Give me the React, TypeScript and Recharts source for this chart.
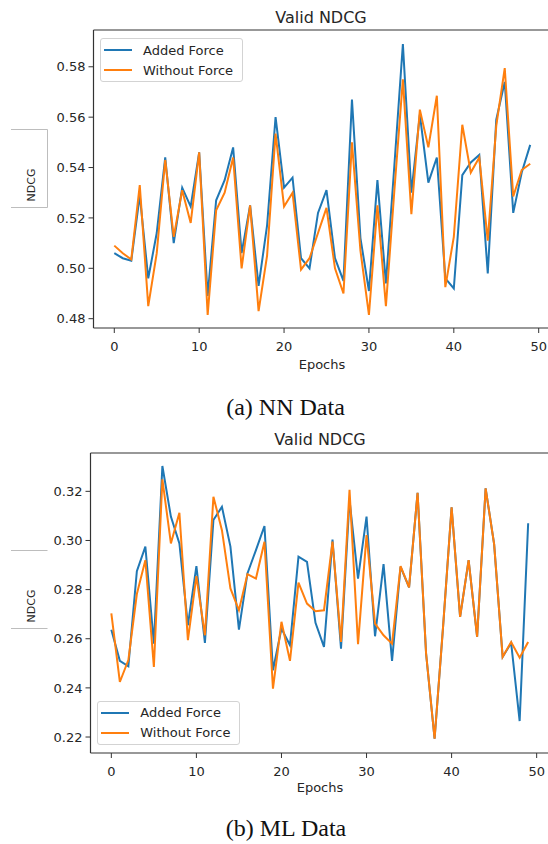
import { LineChart, Line, XAxis, YAxis, Legend, ReferenceLine } from "recharts"

// epochs on the x axis
const epochs = [
  0, 1, 2, 3, 4, 5, 6, 7, 8, 9, 10, 11, 12, 13, 14, 15, 16, 17, 18, 19, 20, 21, 22, 23, 24,
  25, 26, 27, 28, 29, 30, 31, 32, 33, 34, 35, 36, 37, 38, 39, 40, 41, 42, 43, 44, 45, 46, 47, 48, 49
]

const seriesNames = ["Added Force", "Without Force"]

// (a) NN Data
const nnAdded = [
  0.506, 0.504, 0.503, 0.529, 0.496, 0.514, 0.544, 0.51, 0.532, 0.5245,
  0.546, 0.489, 0.527, 0.535, 0.548, 0.506, 0.525, 0.493, 0.517, 0.56,
  0.532, 0.536, 0.504, 0.5, 0.522, 0.531, 0.504, 0.495, 0.567, 0.512,
  0.491, 0.535, 0.494, 0.541, 0.589, 0.53, 0.561, 0.534, 0.544, 0.496,
  0.492, 0.537, 0.542, 0.545, 0.498, 0.559, 0.574, 0.522, 0.538, 0.549
]
const nnWithout = [
  0.509, 0.506, 0.5035, 0.533, 0.485, 0.506, 0.543, 0.5125, 0.531, 0.518,
  0.546, 0.4815, 0.523, 0.53, 0.544, 0.5, 0.525, 0.483, 0.505, 0.5535,
  0.5245, 0.53, 0.4995, 0.504, 0.514, 0.524, 0.5, 0.49, 0.55, 0.507,
  0.4815, 0.525, 0.485, 0.531, 0.575, 0.5215, 0.563, 0.548, 0.5685, 0.4925,
  0.5125, 0.557, 0.538, 0.544, 0.511, 0.5565, 0.5795, 0.5285, 0.539, 0.5415
]

// (b) ML Data
const mlAdded = [
  0.2637, 0.251, 0.2488, 0.2875, 0.2975, 0.258, 0.3303, 0.3097, 0.2988, 0.2655,
  0.2896, 0.2583, 0.3083, 0.3137, 0.2975, 0.2637, 0.2866, 0.2961, 0.3059, 0.2472,
  0.2642, 0.2574, 0.2934, 0.2913, 0.2665, 0.2567, 0.3004, 0.256, 0.3165, 0.2845,
  0.3097, 0.261, 0.2904, 0.251, 0.2893, 0.2809, 0.3194, 0.254, 0.2193, 0.265,
  0.3135, 0.2689, 0.292, 0.2608, 0.3212, 0.2985, 0.2526, 0.2583, 0.2265, 0.307
]
const mlWithout = [
  0.2703, 0.2424, 0.2513, 0.2782, 0.292, 0.2485, 0.3249, 0.2988, 0.3113, 0.2594,
  0.2855, 0.2614, 0.3178, 0.3042, 0.2805, 0.2716, 0.2863, 0.2845, 0.2995, 0.2397,
  0.2669, 0.251, 0.2828, 0.2743, 0.2712, 0.2716, 0.2995, 0.2587, 0.3206, 0.2578,
  0.3022, 0.2662, 0.2614, 0.258, 0.2896, 0.2809, 0.3194, 0.254, 0.2193, 0.265,
  0.3135, 0.2689, 0.292, 0.2608, 0.3212, 0.2985, 0.2526, 0.2587, 0.2523, 0.2587
]

const xTicks = [0, 10, 20, 30, 40, 50]
const nnTicks = [0.48, 0.5, 0.52, 0.54, 0.56, 0.58]
const mlTicks = [0.22, 0.24, 0.26, 0.28, 0.3, 0.32]

const xDomain = [-2.45, 51.45]
const nnDomain = [0.4763, 0.5946]
const mlDomain = [0.2135, 0.3356]

const FONT = "'DejaVu Sans', sans-serif"
const SERIF = "'Liberation Serif', 'Times New Roman', serif"
const AXIS = "#333"
const TEXT = "#262626"

function buildRows(added: number[], without: number[]) {
  return epochs.map((e, i) => ({ epoch: e, added: added[i], without: without[i] }))
}

function BoxLegend({ payload }: any) {
  return (
    <div
      style={{
        width: 143,
        height: 44,
        boxSizing: "border-box",
        border: "1px solid #d3d3d3",
        borderRadius: 3,
        background: "rgba(255,255,255,0.85)",
        paddingTop: 1,
        fontFamily: FONT,
        fontSize: 13,
        color: TEXT
      }}
    >
      {(payload || []).map((p: any) => (
        <div key={p.value} style={{ display: "flex", alignItems: "center", height: 20 }}>
          <span
            style={{
              display: "inline-block",
              width: 28,
              height: 2,
              background: p.color,
              marginLeft: 3,
              marginRight: 11
            }}
          />
          <span style={{ whiteSpace: "nowrap" }}>{p.value}</span>
        </div>
      ))}
    </div>
  )
}

function NdcgChart({
  rows,
  yDomain,
  yTicks,
  width,
  height,
  yAxisWidth,
  marginTop,
  legendTop,
  legendLeft
}: {
  rows: { epoch: number; added: number; without: number }[]
  yDomain: number[]
  yTicks: number[]
  width: number
  height: number
  yAxisWidth: number
  marginTop: number
  legendTop: number
  legendLeft: number
}) {
  const tickStyle = { fontSize: 13, fill: TEXT, fontFamily: FONT }

  return (
    <LineChart
      width={width}
      height={height}
      data={rows}
      margin={{ top: marginTop, right: 5, bottom: 0, left: 0 }}
    >
      <XAxis
        dataKey="epoch"
        type="number"
        domain={xDomain}
        allowDataOverflow
        ticks={xTicks}
        height={32}
        tickSize={5}
        tickMargin={9}
        tick={tickStyle}
        stroke={AXIS}
        axisLine={{ stroke: AXIS, strokeWidth: 1.2 }}
      />
      <YAxis
        type="number"
        domain={yDomain}
        allowDataOverflow
        ticks={yTicks}
        width={yAxisWidth}
        tickSize={5}
        tickMargin={3}
        tick={tickStyle}
        tickFormatter={(v: number) => v.toFixed(2)}
        stroke={AXIS}
        axisLine={{ stroke: AXIS, strokeWidth: 1.2 }}
      />
      {/* top spine of the frame */}
      <ReferenceLine y={yDomain[1]} stroke={AXIS} strokeWidth={1.2} ifOverflow="extendDomain" />
      <Legend
        layout="vertical"
        align="center"
        verticalAlign="middle"
        wrapperStyle={{ top: legendTop, left: legendLeft, width: "auto" }}
        content={<BoxLegend />}
      />
      <Line
        name={seriesNames[0]}
        type="linear"
        dataKey="added"
        stroke="#1f77b4"
        strokeWidth={2}
        dot={false}
        isAnimationActive={false}
      />
      <Line
        name={seriesNames[1]}
        type="linear"
        dataKey="without"
        stroke="#ff7f0e"
        strokeWidth={2}
        dot={false}
        isAnimationActive={false}
      />
    </LineChart>
  )
}

export default function App() {
  const nnRows = buildRows(nnAdded, nnWithout)
  const mlRows = buildRows(mlAdded, mlWithout)

  return (
    <div
      style={{
        position: "absolute",
        left: 0,
        top: 0,
        width: 548,
        height: 844,
        overflow: "hidden",
        background: "#fff"
      }}
    >
      <div style={{ position: "absolute", left: 0, top: 0 }}>
        <NdcgChart
          rows={nnRows}
          yDomain={nnDomain}
          yTicks={nnTicks}
          width={556}
          height={360}
          yAxisWidth={93.5}
          marginTop={30}
          legendTop={38.3}
          legendLeft={100}
        />
      </div>

      <div style={{ position: "absolute", left: 0, top: 420 }}>
        <NdcgChart
          rows={mlRows}
          yDomain={mlDomain}
          yTicks={mlTicks}
          width={554}
          height={365}
          yAxisWidth={90.5}
          marginTop={33}
          legendTop={280.7}
          legendLeft={97.3}
        />
      </div>

      <svg
        width={548}
        height={844}
        style={{ position: "absolute", left: 0, top: 0, pointerEvents: "none" }}
      >
        {/* titles */}
        <text x={321} y={22.7} textAnchor="middle" fontFamily={FONT} fontSize={16} fill={TEXT}>
          Valid NDCG
        </text>
        <text x={320} y={445} textAnchor="middle" fontFamily={FONT} fontSize={16} fill={TEXT}>
          Valid NDCG
        </text>

        {/* x labels */}
        <text x={322} y={369} textAnchor="middle" fontFamily={FONT} fontSize={13} fill={TEXT}>
          Epochs
        </text>
        <text x={320} y={792} textAnchor="middle" fontFamily={FONT} fontSize={13} fill={TEXT}>
          Epochs
        </text>

        {/* y labels with their boxes */}
        <path d="M11 129.5 H47.5 V207.5 H11" fill="none" stroke="#bdbdbd" strokeWidth={1} />
        <text
          x={35}
          y={185}
          transform="rotate(-90 35 185)"
          textAnchor="middle"
          fontFamily={FONT}
          fontSize={11}
          fill={TEXT}
        >
          NDCG
        </text>
        <path d="M11 550.5 H47.5 M11 628.5 H47.5" fill="none" stroke="#bdbdbd" strokeWidth={1} />
        <text
          x={35}
          y={606}
          transform="rotate(-90 35 606)"
          textAnchor="middle"
          fontFamily={FONT}
          fontSize={11}
          fill={TEXT}
        >
          NDCG
        </text>

        {/* captions */}
        <text x={285.5} y={415} textAnchor="middle" fontFamily={SERIF} fontSize={24} fill="#111">
          (a) NN Data
        </text>
        <text x={286} y={836} textAnchor="middle" fontFamily={SERIF} fontSize={24} fill="#111">
          (b) ML Data
        </text>
      </svg>
    </div>
  )
}
